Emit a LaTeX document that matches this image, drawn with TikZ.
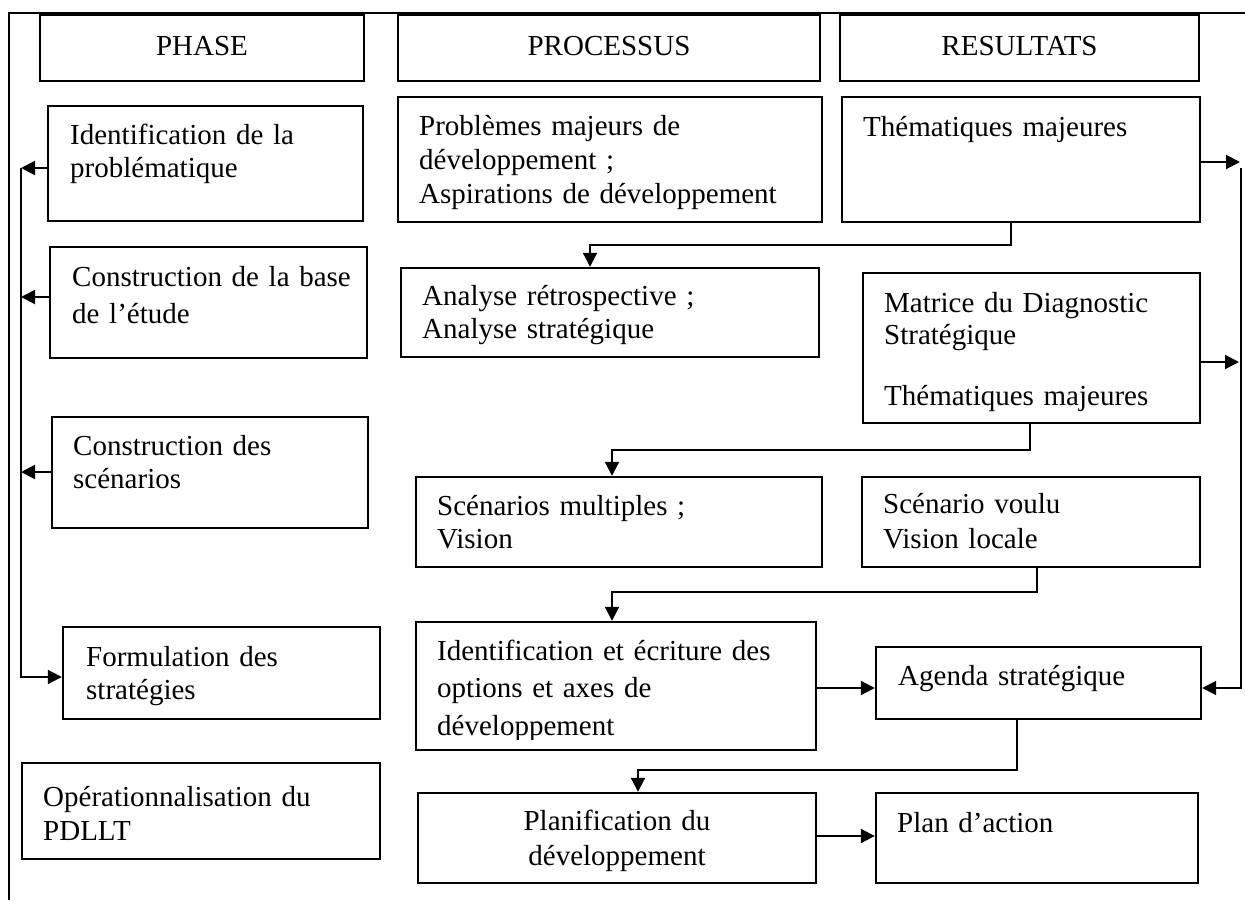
\documentclass[tikz,border=0pt]{standalone}
\usepackage{fontspec}
\setmainfont{Liberation Serif}
\usetikzlibrary{arrows.meta,fit,calc}
\begin{document}
\begin{tikzpicture}[x=1pt,y=-1pt,
  box/.style={draw,line width=2.4pt,inner sep=0pt,rectangle},
  head/.style={inner sep=0pt,anchor=base,font=\fontsize{29}{33}\selectfont},
  txt/.style={inner sep=0pt,anchor=base west,align=left,text width=430pt,font=\fontsize{29}{33}\selectfont},
  arr/.style={line width=2pt,-{Triangle[length=14pt,width=14pt]}},
  frameline/.style={line width=2.8pt,line join=miter}]
\useasboundingbox (0,0) rectangle (1245,900);
\fill[white] (0,0) rectangle (1245,900);

% outer frame
\draw[frameline] (9,900) -- (9,13) -- (1245,13);

% headers
\node[box,fit={(40,15) (364,81)}] (hphase) {};
\node[box,fit={(398,15) (820,81)}] (hproc) {};
\node[box,fit={(840,15) (1199,81)}] (hres) {};
\node[head] (thphase) at (hphase.center |- 0,55) {PHASE};
\node[head] (thproc) at (hproc.center |- 0,55) {PROCESSUS};
\node[head] (thres) at (hres.center |- 0,55) {RESULTATS};

% phase column
\node[box,fit={(48,106) (363,221)}] (p1) {};
\node[box,fit={(50,247) (367,358)}] (p2) {};
\node[box,fit={(52,417) (368,528)}] (p3) {};
\node[box,fit={(63,627) (380,719)}] (p4) {};
\node[box,fit={(22,763) (380,859)}] (p5) {};

% process column
\node[box,fit={(398,97) (822,222)}] (m1) {};
\node[box,fit={(401,268) (819,357)}] (m2) {};
\node[box,fit={(416,477) (822,567)}] (m3) {};
\node[box,fit={(416,622) (816,750)}] (m4) {};
\node[box,fit={(418,793) (816,883)}] (m5) {};

% results column
\node[box,fit={(842,97) (1200,222)}] (r1) {};
\node[box,fit={(863,273) (1200,423)}] (r2) {};
\node[box,fit={(862,477) (1200,567)}] (r3) {};
\node[box,fit={(876,647) (1201,719)}] (r4) {};
\node[box,fit={(876,793) (1198,883)}] (r5) {};

% texts
\node[txt] (tp1) at (70,144) {Identification de la\\problématique};
\node[txt,font=\fontsize{29}{37}\selectfont] (tp2) at (72,286) {Construction de la base\\de l’étude};
\node[txt] (tp3) at (73,455) {Construction des\\scénarios};
\node[txt] (tp4) at (86,666) {Formulation des\\stratégies};
\node[txt,font=\fontsize{29}{34}\selectfont] (tp5) at (43,806) {Opérationnalisation du\\PDLLT};

\node[txt,font=\fontsize{29}{34}\selectfont] (tm1) at (419,135) {Problèmes majeurs de\\développement ;\\Aspirations de développement};
\node[txt] (tm2) at (422,305) {Analyse rétrospective ;\\Analyse stratégique};
\node[txt] (tm3) at (437,515) {Scénarios multiples ;\\Vision};
\begin{scope}
\clip (416,600) rectangle (816,739);
\node[txt,font=\fontsize{29}{37.5}\selectfont] (tm4) at (437,660) {Identification et écriture des\\options et axes de\\développement};
\end{scope}
\node[txt,anchor=base,align=center,text width=398pt,font=\fontsize{29}{35}\selectfont] (tm5) at (617,830) {Planification du\\développement};

\node[txt] (tr1) at (863,136) {Thématiques majeures};
\node[txt,font=\fontsize{29}{32}\selectfont] (tr2) at (884,312) {Matrice du Diagnostic\\Stratégique\\[29pt]Thématiques majeures};
\node[txt,font=\fontsize{29}{35}\selectfont] (tr3) at (883,513) {Scénario voulu\\Vision locale};
\node[txt] (tr4) at (898,685) {Agenda stratégique};
\node[txt] (tr5) at (897,832) {Plan d’action};

% left feedback line
\coordinate (lt) at (21,168);
\coordinate (l2) at (21,297);
\coordinate (l3) at (21,472);
\coordinate (lb) at (21,677);
\draw[arr] (p1.west |- lt) -- (lt);
\draw[arr] (p2.west |- l2) -- (l2);
\draw[arr] (p3.west |- l3) -- (l3);
\draw[arr] (lt) -- (lb) -- (p4.west |- lb);

% right feedback line
\coordinate (ra1) at (1240,162);
\coordinate (ra2) at (1239,362);
\coordinate (rt) at (1241,168);
\coordinate (rb) at (1241,688);
\draw[arr] (r1.east |- ra1) -- (ra1);
\draw[arr] (r2.east |- ra2) -- (ra2);
\draw[arr] (rt) -- (rb) -- (r4.east |- rb);

% elbow connectors
\coordinate (e1a) at (1011,245); \coordinate (e1b) at (590,245);
\draw[arr] (r1.south -| e1a) -- (e1a) -- (e1b) -- (m2.north -| e1b);
\coordinate (e2a) at (1030,450); \coordinate (e2b) at (612,450);
\draw[arr] (r2.south -| e2a) -- (e2a) -- (e2b) -- (m3.north -| e2b);
\coordinate (e3a) at (1037,592); \coordinate (e3b) at (612,592);
\draw[arr] (r3.south -| e3a) -- (e3a) -- (e3b) -- (m4.north -| e3b);
\coordinate (e4a) at (1017,770); \coordinate (e4b) at (638,770);
\draw[arr] (r4.south -| e4a) -- (e4a) -- (e4b) -- (m5.north -| e4b);

% horizontal arrows
\coordinate (h1) at (816,688);
\coordinate (h2) at (816,836);
\draw[arr] (m4.east |- h1) -- (r4.west |- h1);
\draw[arr] (m5.east |- h2) -- (r5.west |- h2);
\end{tikzpicture}
\end{document}
